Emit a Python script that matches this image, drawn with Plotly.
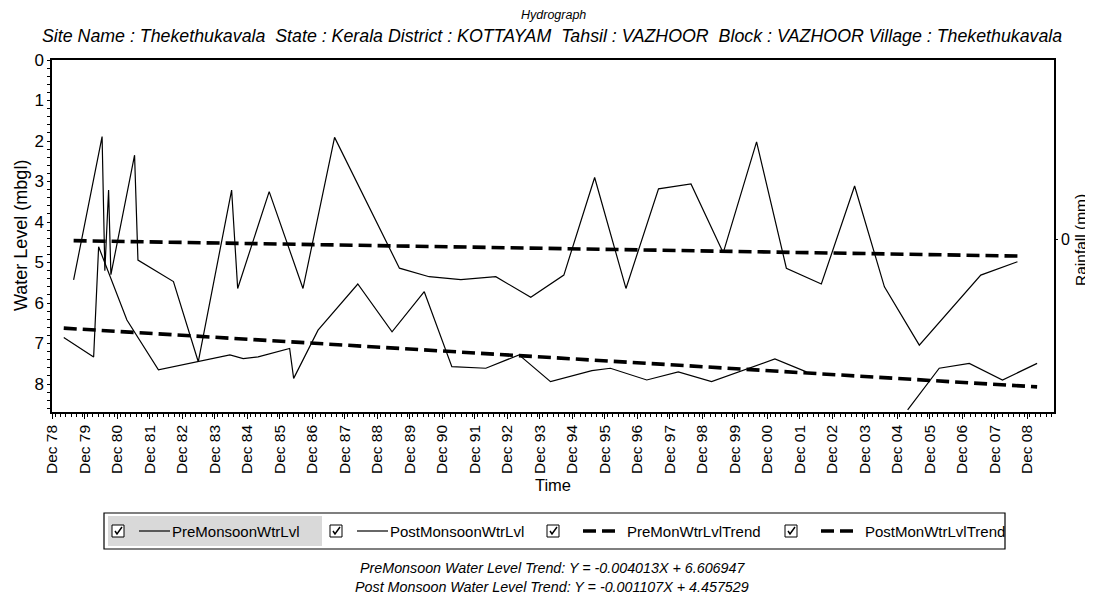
import plotly.graph_objects as go

# ---------------- data ----------------
pre_dates = ["1979-04-09", "1980-03-10", "1980-05-05", "1981-03-19", "1982-03-08", "1983-05-30",
             "1984-05-20", "1984-10-16", "1985-04-02", "1986-03-22", "1986-05-06", "1987-02-04",
             "1988-04-26", "1989-05-16", "1990-05-13", "1991-03-19", "1992-04-04", "1993-04-12",
             "1994-04-01", "1995-07-10", "1996-02-03", "1997-03-18", "1998-03-07", "1999-03-16",
             "2001-02-25", "2002-02-14", "2003-06-01", "2005-03-28", "2006-03-18", "2007-02-19",
             "2008-02-27", "2009-03-22"]
pre_level = [6.85, 7.33, 4.61, 6.42, 7.65, 7.45,
             7.28, 7.37, 7.33, 7.12, 7.86, 6.67,
             5.53, 6.71, 5.72, 7.57, 7.61, 7.28,
             7.94, 7.67, 7.61, 7.90, 7.70, 7.94,
             7.38, 7.70, None, 8.64, 7.61, 7.49,
             7.90, 7.49]

post_dates = ["1979-07-29", "1980-06-13", "1980-07-14", "1980-08-25", "1980-09-20", "1981-06-13",
              "1981-07-21", "1982-08-24", "1983-05-30", "1984-06-08", "1984-08-15", "1985-08-04",
              "1986-08-19", "1987-08-09", "1989-08-07", "1990-07-07", "1991-06-28", "1992-07-25",
              "1993-08-22", "1994-08-29", "1995-08-10", "1996-07-27", "1997-07-28", "1998-07-28",
              "1999-07-25", "2000-08-03", "2001-07-04", "2002-08-01", "2003-08-10", "2004-07-10",
              "2005-08-06", "2007-06-28", "2008-08-13"]
post_level = [5.43, 1.89, 5.20, 3.21, 5.30, 2.35,
              4.94, 5.47, 7.45, 3.21, 5.64, 3.25,
              5.64, 1.91, 5.14, 5.35, 5.42, 5.35,
              5.86, 5.31, 2.90, 5.64, 3.18, 3.06,
              4.76, 2.02, 5.14, 5.53, 3.11, 5.60,
              7.04, 5.31, 4.98]

# trend lines (end values)
pre_trend_dates = [pre_dates[0], pre_dates[-1]]
pre_trend_vals = [6.62, 8.07]
post_trend_dates = [post_dates[0], post_dates[-1]]
post_trend_vals = [4.46, 4.84]

legend_names = ["PreMonsoonWtrLvl", "PostMonsoonWtrLvl", "PreMonWtrLvlTrend", "PostMonWtrLvlTrend"]
title_text = "Hydrograph"
subtitle_text = ("Site Name : Thekethukavala  State : Kerala District : KOTTAYAM  Tahsil : VAZHOOR  "
                 "Block : VAZHOOR Village : Thekethukavala")
foot1 = "PreMonsoon Water Level Trend: Y = -0.004013X + 6.606947"
foot2 = "Post Monsoon Water Level Trend: Y = -0.001107X + 4.457529"
y1_title = "Water Level (mbgl)"
y2_title = "Rainfall (mm)"
x_title = "Time"

# ---------------- layout geometry ----------------
# The page has an 8px body margin, so design in screen pixels and convert.
OFF = 8
W, H = 1093 - OFF, 604 - OFF
S_PL, S_PR, S_PT, S_PB = 52, 1054, 60, 412          # plot area in screen pixels
PL, PR, PT, PB = S_PL - OFF, S_PR - OFF, S_PT - OFF, S_PB - OFF


def px(x):   # screen x -> paper
    return (x - OFF - PL) / (PR - PL)


def py(y):   # screen y -> paper
    return (PB - (y - OFF)) / (PB - PT)


FONT = "Liberation Sans, Arial, sans-serif"

fig = go.Figure()
fig.add_trace(go.Scatter(x=pre_dates, y=pre_level, mode="lines", name=legend_names[0],
                         line=dict(color="black", width=1.2), connectgaps=False, showlegend=False))
fig.add_trace(go.Scatter(x=post_dates, y=post_level, mode="lines", name=legend_names[1],
                         line=dict(color="black", width=1.2), showlegend=False))
fig.add_trace(go.Scatter(x=pre_trend_dates, y=pre_trend_vals, mode="lines", name=legend_names[2],
                         line=dict(color="black", width=3.6, dash="13px,6px"), showlegend=False))
fig.add_trace(go.Scatter(x=post_trend_dates, y=post_trend_vals, mode="lines", name=legend_names[3],
                         line=dict(color="black", width=3.6, dash="13px,6px"), showlegend=False))
# rainfall axis (no data)
fig.add_trace(go.Scatter(x=[], y=[], yaxis="y2", showlegend=False, hoverinfo="skip"))

fig.update_layout(
    width=W, height=H,
    margin=dict(l=PL, r=W - PR, t=PT, b=H - PB),
    paper_bgcolor="white", plot_bgcolor="white",
    font=dict(family=FONT, color="black", size=14),
    xaxis=dict(type="date", range=["1978-11-28", "2009-09-28"],
               tick0="1978-12-01", dtick="M12", tickformat="%b %y", tickangle=-90,
               ticks="outside", ticklen=5, tickcolor="black", tickwidth=1,
               minor=dict(dtick="M2", ticks="outside", ticklen=3, tickcolor="black"),
               showline=True, linecolor="black", linewidth=1.5, mirror=True,
               showgrid=False, zeroline=False,
               tickfont=dict(size=15.5),
               title=dict(text=x_title, font=dict(size=16.5), standoff=6)),
    yaxis=dict(range=[8.69, 0], dtick=1, ticks="outside", ticklen=3, tickcolor="black",
               minor=dict(dtick=0.2, ticks="outside", ticklen=3, tickcolor="black"),
               showline=True, linecolor="black", linewidth=1.5, mirror=True,
               showgrid=False, zeroline=False, tickfont=dict(size=17)),
    yaxis2=dict(overlaying="y", side="right", range=[-0.96, 1], tickvals=[0],
                ticks="outside", ticklen=2, tickcolor="black",
                showline=True, linecolor="black", linewidth=1.5,
                showgrid=False, zeroline=False, tickfont=dict(size=16)),
    showlegend=False,
)

ann = []
ann.append(dict(x=px(553), y=py(15), xref="paper", yref="paper", text=f"<i>{title_text}</i>",
                showarrow=False, font=dict(size=12.5), xanchor="center", yanchor="middle"))
ann.append(dict(x=px(552), y=py(36), xref="paper", yref="paper", text=f"<i>{subtitle_text}</i>",
                showarrow=False, font=dict(size=17.8), xanchor="center", yanchor="middle"))
ann.append(dict(x=px(552), y=py(568), xref="paper", yref="paper", text=f"<i>{foot1}</i>",
                showarrow=False, font=dict(size=14.3), xanchor="center", yanchor="middle"))
ann.append(dict(x=px(552), y=py(587), xref="paper", yref="paper", text=f"<i>{foot2}</i>",
                showarrow=False, font=dict(size=14.3), xanchor="center", yanchor="middle"))
# axis titles
ann.append(dict(x=px(21), y=py(236), xref="paper", yref="paper", text=y1_title, textangle=-90,
                showarrow=False, font=dict(size=18), xanchor="center", yanchor="middle"))
ann.append(dict(x=px(1080), y=py(240), xref="paper", yref="paper", text=y2_title, textangle=-90,
                showarrow=False, font=dict(size=15.5), xanchor="center", yanchor="middle"))

shapes = []
# ---------------- custom legend (screen pixel layout) ----------------
LEG_Y = 531
LEG_TOP, LEG_BOT = 513, 549
item_cb = [112, 330, 547, 785]
LEG_L, LEG_R = 104, 1005
shapes.append(dict(type="rect", xref="paper", yref="paper", x0=px(LEG_L), x1=px(LEG_R),
                   y0=py(LEG_BOT), y1=py(LEG_TOP), line=dict(color="black", width=1.2),
                   fillcolor="white", layer="below"))
# highlight on first entry
shapes.append(dict(type="rect", xref="paper", yref="paper", x0=px(item_cb[0] - 4), x1=px(item_cb[1] - 8),
                   y0=py(LEG_BOT - 3), y1=py(LEG_TOP + 3), line=dict(width=0),
                   fillcolor="#d9d9d9", layer="below"))
for i, cb in enumerate(item_cb):
    shapes.append(dict(type="rect", xref="paper", yref="paper", x0=px(cb), x1=px(cb + 12),
                       y0=py(LEG_Y + 6), y1=py(LEG_Y - 6), line=dict(color="black", width=1),
                       fillcolor="white"))
    shapes.append(dict(type="path", xref="paper", yref="paper",
                       path=(f"M {px(cb + 3)} {py(LEG_Y)} L {px(cb + 5)} {py(LEG_Y + 3)} "
                             f"L {px(cb + 10)} {py(LEG_Y - 4)}"),
                       line=dict(color="black", width=1.5)))
    if i < 2:
        shapes.append(dict(type="line", xref="paper", yref="paper", x0=px(cb + 27), x1=px(cb + 58),
                           y0=py(LEG_Y), y1=py(LEG_Y), line=dict(color="black", width=1.2)))
        tx = cb + 58
    else:
        shapes.append(dict(type="line", xref="paper", yref="paper", x0=px(cb + 36), x1=px(cb + 73),
                           y0=py(LEG_Y), y1=py(LEG_Y), line=dict(color="black", width=3.6, dash="13px,6px")))
        tx = cb + 78
    ann.append(dict(x=px(tx), y=py(LEG_Y), xref="paper", yref="paper", text=legend_names[i],
                    showarrow=False, font=dict(size=15), xanchor="left", yanchor="middle"))

fig.update_layout(annotations=ann, shapes=shapes)
fig.write_html("out.html")
